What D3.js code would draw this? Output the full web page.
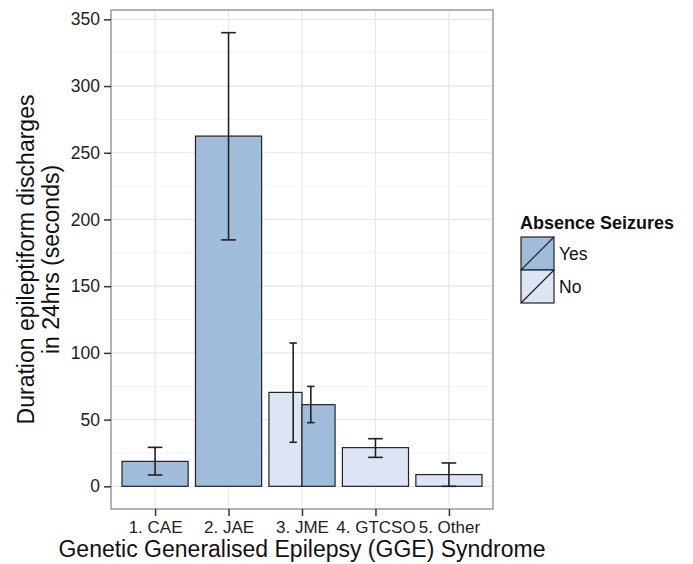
<!DOCTYPE html>
<html>
<head>
<meta charset="utf-8">
<script src="https://cdn.jsdelivr.net/npm/d3@7"></script>
<style>
  body { margin: 0; background: #fff; }
  svg { display: block; font-family: "Liberation Sans", Arial, sans-serif; }
</style>
</head>
<body>
<svg id="chart" width="693" height="564"></svg>
<script>
// ---- data ----
const categories = ["1. CAE", "2. JAE", "3. JME", "4. GTCSO", "5. Other"];
const groups = ["No", "Yes"];            // dodge order (left to right)
const legendOrder = ["Yes", "No"];
const barCategory = ["1. CAE", "2. JAE", "3. JME", "3. JME", "4. GTCSO", "5. Other"];
const barGroup    = ["Yes",    "Yes",    "No",     "Yes",    "No",       "No"];
const barValue    = [18.7,     262.5,    70.4,     61.2,     29.0,       8.8];
const errLow      = [8.5,      184.7,    33.0,     47.7,     21.7,       0.0];
const errHigh     = [29.2,     340.0,    107.4,    74.9,     35.7,       17.5];
const yTicks = [0, 50, 100, 150, 200, 250, 300, 350];
const yMinor = [25, 75, 125, 175, 225, 275, 325];
const fills = { Yes: "#a0bcdb", No: "#dbe5f4" };

// ---- layout ----
const svg = d3.select("#chart");
const panel = { left: 111, top: 10, right: 493, bottom: 509 };

// discrete x with ggplot-style 0.6-unit expansion each side
const x = d3.scaleLinear().domain([0.4, categories.length + 0.6]).range([panel.left, panel.right]);
const bw = x(2) - x(1);
const xc = c => x(categories.indexOf(c) + 1);

const y = d3.scaleLinear().domain([-17, 357]).range([panel.bottom, panel.top]);

// panel background and grid
const g = svg.append("g");
g.append("rect").attr("x", panel.left).attr("y", panel.top)
  .attr("width", panel.right - panel.left).attr("height", panel.bottom - panel.top)
  .attr("fill", "#fff");
g.selectAll(".minor").data(yMinor).join("line")
  .attr("x1", panel.left).attr("x2", panel.right)
  .attr("y1", d => y(d)).attr("y2", d => y(d))
  .attr("stroke", "#f4f4f4").attr("stroke-width", 1);
g.selectAll(".major").data(yTicks).join("line")
  .attr("x1", panel.left).attr("x2", panel.right)
  .attr("y1", d => y(d)).attr("y2", d => y(d))
  .attr("stroke", "#e8e8e8").attr("stroke-width", 1.2);
g.selectAll(".vmajor").data(categories).join("line")
  .attr("x1", d => xc(d)).attr("x2", d => xc(d))
  .attr("y1", panel.top).attr("y2", panel.bottom)
  .attr("stroke", "#e8e8e8").attr("stroke-width", 1.2);

// bars
const bars = barValue.map((v, i) => {
  const c = barCategory[i];
  const n = barCategory.filter(d => d === c).length;
  const full = 0.9 * bw;
  let w, left, ex, ew;
  if (n === 1) {
    w = full; left = xc(c) - full / 2; ex = xc(c); ew = 0.2 * bw;
  } else {
    w = full / 2;
    const k = groups.indexOf(barGroup[i]);
    left = xc(c) - full / 2 + k * w;
    ex = xc(c) + (k === 0 ? -0.12 : 0.12) * bw;
    ew = 0.1 * bw;
  }
  return { v, g: barGroup[i], left, w, ex, ew, lo: errLow[i], hi: errHigh[i] };
});

g.selectAll(".bar").data(bars).join("rect")
  .attr("x", d => d.left).attr("width", d => d.w)
  .attr("y", d => y(d.v)).attr("height", d => y(0) - y(d.v))
  .attr("fill", d => fills[d.g]).attr("stroke", "#222").attr("stroke-width", 1.2);

const eb = g.selectAll(".eb").data(bars).join("g").attr("stroke", "#222").attr("stroke-width", 1.6);
eb.append("line").attr("x1", d => d.ex).attr("x2", d => d.ex)
  .attr("y1", d => y(d.lo)).attr("y2", d => y(d.hi));
eb.append("line").attr("x1", d => d.ex - d.ew / 2).attr("x2", d => d.ex + d.ew / 2)
  .attr("y1", d => y(d.lo)).attr("y2", d => y(d.lo));
eb.append("line").attr("x1", d => d.ex - d.ew / 2).attr("x2", d => d.ex + d.ew / 2)
  .attr("y1", d => y(d.hi)).attr("y2", d => y(d.hi));

// panel border
g.append("rect").attr("x", panel.left).attr("y", panel.top)
  .attr("width", panel.right - panel.left).attr("height", panel.bottom - panel.top)
  .attr("fill", "none").attr("stroke", "#9a9a9a").attr("stroke-width", 1.5);

// y axis
const yAxis = svg.append("g").attr("transform", `translate(${panel.left},0)`)
  .call(d3.axisLeft(y).tickValues(yTicks).tickSize(7).tickPadding(4));
yAxis.select(".domain").remove();
yAxis.selectAll(".tick line").attr("stroke", "#333").attr("stroke-width", 1.5);
yAxis.selectAll(".tick text").attr("fill", "#222").style("font-size", "17.5px")
  .style("font-family", "Liberation Sans, Arial, sans-serif");

// x axis
const xAxisScale = d3.scalePoint().domain(categories)
  .range([xc(categories[0]), xc(categories[categories.length - 1])]);
const xAxis = svg.append("g").attr("transform", `translate(0,${panel.bottom})`)
  .call(d3.axisBottom(xAxisScale).tickSize(7).tickPadding(5));
xAxis.select(".domain").remove();
xAxis.selectAll(".tick line").attr("stroke", "#333").attr("stroke-width", 1.5);
xAxis.selectAll(".tick text").attr("fill", "#222").style("font-size", "17px")
  .style("font-family", "Liberation Sans, Arial, sans-serif");

// axis titles
svg.append("text").attr("x", (panel.left + panel.right) / 2).attr("y", 557)
  .attr("text-anchor", "middle").style("font-size", "23px").attr("fill", "#111")
  .text("Genetic Generalised Epilepsy (GGE) Syndrome");
const yt = svg.append("text")
  .attr("transform", `translate(34,${(panel.top + panel.bottom) / 2}) rotate(-90)`)
  .attr("text-anchor", "middle").style("font-size", "23px").attr("fill", "#111");
yt.append("tspan").attr("x", 0).attr("y", 0).text("Duration epileptiform discharges");
yt.append("tspan").attr("x", 0).attr("y", 25).text("in 24hrs (seconds)");

// legend
const lg = svg.append("g");
lg.append("text").attr("x", 520).attr("y", 229).style("font-size", "18px")
  .style("font-weight", "bold").attr("fill", "#111").text("Absence Seizures");
const key = 33;
const items = lg.selectAll(".item").data(legendOrder).join("g")
  .attr("transform", (d, i) => `translate(521,${237 + i * key})`);
items.append("rect").attr("width", key).attr("height", key)
  .attr("fill", d => fills[d]).attr("stroke", "#222").attr("stroke-width", 1.2);
items.append("line").attr("x1", 0).attr("y1", key).attr("x2", key).attr("y2", 0)
  .attr("stroke", "#222").attr("stroke-width", 1.2);
items.append("text").attr("x", key + 5).attr("y", key / 2 + 6)
  .style("font-size", "17.5px").attr("fill", "#111").text(d => d);
</script>
</body>
</html>
